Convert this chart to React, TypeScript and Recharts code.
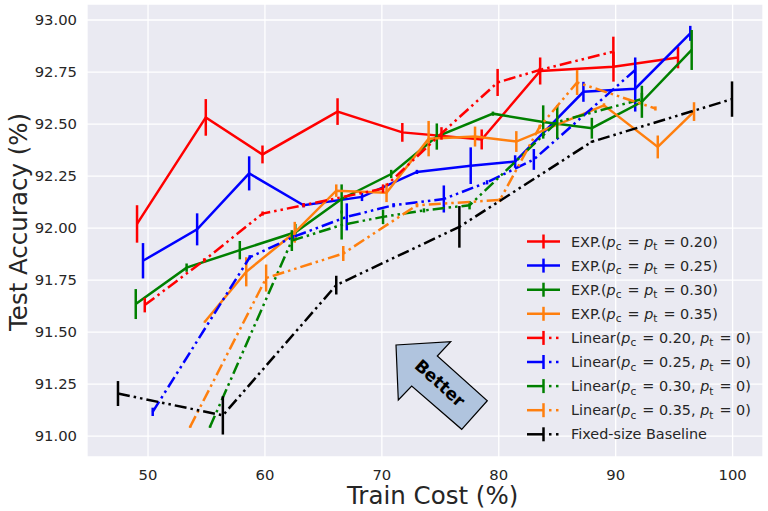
import React from "react";
import {
  CartesianGrid,
  ErrorBar,
  Line,
  LineChart,
  XAxis,
  YAxis,
} from "recharts";

// EXP schedules (p_c = p_t)
const exp20X = [49.06, 54.94, 59.79, 66.21, 71.75, 78.54, 83.54, 89.81, 95.33];
const exp20Y = [92.02, 92.532, 92.354, 92.56, 92.46, 92.426, 92.755, 92.776, 92.82];
const exp20E = [0.09, 0.088, 0.043, 0.064, 0.045, 0.048, 0.065, 0.072, 0.052];

const exp25X = [49.57, 54.2, 58.65, 63.3, 68.3, 73.0, 77.6, 81.4, 87.24, 91.67, 96.38];
const exp25Y = [91.843, 91.994, 92.263, 92.11, 92.15, 92.27, 92.3, 92.32, 92.655, 92.67, 92.936];
const exp25E = [0.085, 0.077, 0.082, 0.01, 0.02, 0.01, 0.088, 0.03, 0.048, 0.11, 0.036];

const exp30X = [48.95, 53.3, 57.85, 62.6, 66.56, 70.8, 74.7, 79.5, 83.8, 87.96, 92.24, 96.5];
const exp30Y = [91.635, 91.81, 91.894, 91.98, 92.14, 92.26, 92.44, 92.55, 92.51, 92.48, 92.607, 92.856];
const exp30E = [0.072, 0.02, 0.044, 0.04, 0.07, 0.02, 0.063, 0.01, 0.08, 0.05, 0.077, 0.096];

const exp35X = [54.86, 58.4, 62.55, 66.1, 70.4, 74.0, 77.97, 81.5, 89.0, 93.6, 96.7];
const exp35Y = [91.55, 91.79, 91.98, 92.18, 92.17, 92.43, 92.44, 92.416, 92.59, 92.39, 92.56];
const exp35E = [0.005, 0.07, 0.05, 0.03, 0.045, 0.085, 0.048, 0.05, 0.01, 0.055, 0.045];

// Linear schedules (p_t = 0)
const lin20X = [49.72, 54.8, 59.8, 63.3, 70.1, 75.1, 79.9, 83.5, 89.8];
const lin20Y = [91.63, 91.845, 92.07, 92.11, 92.19, 92.455, 92.7, 92.76, 92.848];
const lin20E = [0.035, 0.01, 0.01, 0.01, 0.02, 0.03, 0.065, 0.01, 0.072];

const lin25X = [50.4, 58.7, 62.4, 67.0, 71.0, 75.3, 79.0, 83.0, 91.67];
const lin25Y = [91.117, 91.86, 91.957, 92.054, 92.11, 92.14, 92.22, 92.33, 92.76];
const lin25E = [0.02, 0.01, 0.01, 0.065, 0.01, 0.065, 0.01, 0.05, 0.06];

const lin30X = [55.3, 62.3, 66.56, 70.1, 73.6, 77.5, 85.0, 92.24];
const lin30Y = [91.045, 91.94, 92.015, 92.054, 92.085, 92.11, 92.51, 92.62];
const lin30E = [0.005, 0.05, 0.07, 0.035, 0.01, 0.02, 0.08, 0.03];

const lin35X = [53.6, 60.1, 66.7, 73.0, 80.1, 83.5, 86.7, 93.4];
const lin35Y = [91.045, 91.76, 91.878, 92.11, 92.135, 92.487, 92.7, 92.575];
const lin35E = [0.005, 0.065, 0.036, 0.01, 0.01, 0.01, 0.06, 0.01];

// Fixed-size baseline
const baseX = [47.43, 56.4, 66.1, 76.63, 87.96, 99.95];
const baseY = [91.205, 91.1, 91.726, 92.006, 92.415, 92.62];
const baseE = [0.06, 0.092, 0.045, 0.1, 0.005, 0.085];

const xTicks = [50, 60, 70, 80, 90, 100];
const yTicks = [91, 91.25, 91.5, 91.75, 92, 92.25, 92.5, 92.75, 93];

const FONT = "DejaVu Sans";
const TEXT = "#262626";
const DASH = "12 4 2.5 4 2.5 4";

const zip = (xs: number[], ys: number[], es: number[]) =>
  xs.map((x, i) => ({ x, y: ys[i], e: es[i] }));

const series = [
  { name: "exp20", data: zip(exp20X, exp20Y, exp20E), color: "#ff0000", dash: false, p: "0.20" },
  { name: "exp25", data: zip(exp25X, exp25Y, exp25E), color: "#0000ff", dash: false, p: "0.25" },
  { name: "exp30", data: zip(exp30X, exp30Y, exp30E), color: "#008000", dash: false, p: "0.30" },
  { name: "exp35", data: zip(exp35X, exp35Y, exp35E), color: "#ff7f0e", dash: false, p: "0.35" },
  { name: "lin20", data: zip(lin20X, lin20Y, lin20E), color: "#ff0000", dash: true, p: "0.20" },
  { name: "lin25", data: zip(lin25X, lin25Y, lin25E), color: "#0000ff", dash: true, p: "0.25" },
  { name: "lin30", data: zip(lin30X, lin30Y, lin30E), color: "#008000", dash: true, p: "0.30" },
  { name: "lin35", data: zip(lin35X, lin35Y, lin35E), color: "#ff7f0e", dash: true, p: "0.35" },
  { name: "base", data: zip(baseX, baseY, baseE), color: "#000000", dash: true, p: "" },
];

function Sub({ v, s }: { v: string; s: string }) {
  return (
    <>
      <tspan fontStyle="italic">{v}</tspan>
      <tspan fontSize={10.5} dy={3.5}>{s}</tspan>
      <tspan dy={-3.5}>{"\u200a"}</tspan>
    </>
  );
}

function LegendLabel({ kind, p }: { kind: string; p: string }) {
  if (kind === "base") return <>Fixed-size Baseline</>;
  if (kind === "exp")
    return (
      <>
        EXP.(<Sub v="p" s="c" /> = <Sub v="p" s="t" /> = {p})
      </>
    );
  return (
    <>
      Linear(<Sub v="p" s="c" /> = {p}, <Sub v="p" s="t" /> = 0)
    </>
  );
}

function Overlay() {
  const rows = series.map((s, i) => ({ ...s, y: 241.5 + i * 24.1 }));
  return (
    <svg
      width={768}
      height={511}
      style={{ position: "absolute", left: 0, top: 0, pointerEvents: "none" }}
    >
      {/* legend */}
      {rows.map((r) => (
        <g key={r.name}>
          {r.dash ? (
            <>
              <line x1={527} x2={543} y1={r.y} y2={r.y} stroke={r.color} strokeWidth={2.5} />
              <line x1={549} x2={551.5} y1={r.y} y2={r.y} stroke={r.color} strokeWidth={2.5} />
              <line x1={556} x2={558.5} y1={r.y} y2={r.y} stroke={r.color} strokeWidth={2.5} />
            </>
          ) : (
            <line x1={527} x2={560} y1={r.y} y2={r.y} stroke={r.color} strokeWidth={2.5} />
          )}
          <line x1={543.5} x2={543.5} y1={r.y - 7} y2={r.y + 7} stroke={r.color} strokeWidth={2.5} />
          <text x={571} y={r.y + 5} fontFamily={FONT} fontSize={14.4} fill={TEXT}>
            <LegendLabel
              kind={r.name === "base" ? "base" : r.dash ? "lin" : "exp"}
              p={r.p}
            />
          </text>
        </g>
      ))}

      {/* "Better" arrow */}
      <polygon
        points="396,345 398.3,400 411.7,386 461.7,429.3 487.3,400.7 437.3,356 450.7,341.7"
        fill="#b0c4de"
        stroke="#000"
        strokeWidth={1.2}
        strokeLinejoin="miter"
      />
      <text
        x={440}
        y={383}
        transform="rotate(42 440 383)"
        textAnchor="middle"
        dominantBaseline="central"
        fontFamily={FONT}
        fontWeight="bold"
        fontSize={17}
        fill="#000"
      >
        Better
      </text>

      {/* axis titles */}
      <text x={347} y={504} fontFamily={FONT} fontSize={24.5} fill={TEXT}>
        Train Cost (%)
      </text>
      <text
        x={27}
        y={331}
        transform="rotate(-90 27 331)"
        fontFamily={FONT}
        fontSize={24.5}
        fill={TEXT}
      >
        Test Accuracy (%)
      </text>
    </svg>
  );
}

export default function App() {
  return (
    <div style={{ position: "fixed", left: 0, top: 0, width: 768, height: 511, background: "#fff" }}>
      <LineChart width={768} height={511} margin={{ top: 4, right: 5, left: 0, bottom: 0 }}>
        <CartesianGrid fill="#eaeaf2" stroke="#ffffff" strokeWidth={1.3} />
        <XAxis
          type="number"
          dataKey="x"
          domain={[44.78, 102.6]}
          ticks={xTicks}
          allowDataOverflow
          height={54}
          tickLine={false}
          axisLine={false}
          tickSize={0}
          tickMargin={12}
          tick={{ fill: TEXT, fontSize: 14.8, fontFamily: FONT }}
        />
        <YAxis
          type="number"
          domain={[90.9, 93.077]}
          ticks={yTicks}
          allowDataOverflow
          width={87}
          tickLine={false}
          axisLine={false}
          tickSize={0}
          tickMargin={10}
          tickFormatter={(v: number) => v.toFixed(2)}
          tick={{ fill: TEXT, fontSize: 14.8, fontFamily: FONT }}
        />
        {series.map((s) => (
          <Line
            key={s.name}
            data={s.data}
            dataKey="y"
            type="linear"
            stroke={s.color}
            strokeWidth={2.5}
            strokeDasharray={s.dash ? DASH : undefined}
            dot={false}
            activeDot={false}
            isAnimationActive={false}
          >
            <ErrorBar dataKey="e" width={0} stroke={s.color} strokeWidth={2.5} direction="y" />
          </Line>
        ))}
      </LineChart>
      <Overlay />
    </div>
  );
}
